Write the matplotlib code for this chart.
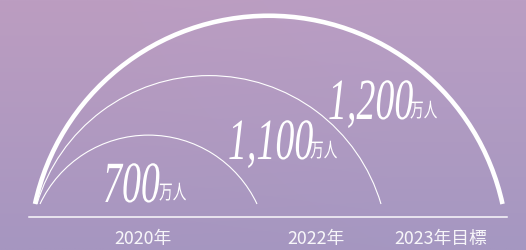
import numpy as np
import matplotlib.pyplot as plt
import matplotlib.patheffects as pe
from matplotlib.patches import Arc
from matplotlib.text import Text
from matplotlib.transforms import Affine2D, Bbox

years = ['2020年', '2022年', '2023年目標']
values = [700, 1100, 1200]
unit = '万人'

W, H = 526, 251


class Squeeze(pe.AbstractPathEffect):
    # condense glyphs horizontally around the text's left edge
    def __init__(self, sx):
        super().__init__()
        self.sx = sx

    def draw_path(self, renderer, gc, tpath, affine, rgbFace=None):
        renderer.draw_path(gc, tpath, Affine2D().scale(self.sx, 1) + affine, rgbFace)


class CondensedText(Text):
    # left-aligned text drawn narrower; extent reports the narrow width
    def __init__(self, x, y, s, sx=1.0, **kw):
        super().__init__(x, y, s, ha='left', **kw)
        self.sx = sx
        self.set_path_effects([Squeeze(sx)])

    def get_window_extent(self, renderer=None, dpi=None):
        bb = super().get_window_extent(renderer, dpi)
        return Bbox.from_extents(bb.x0, bb.y0, bb.x0 + bb.width * self.sx, bb.y1)


fig = plt.figure(figsize=(W / 100, H / 100), dpi=100)
ax = fig.add_axes([0, 0, 1, 1])
ax.set_xlim(0, W)
ax.set_ylim(0, H)
ax.axis('off')

# background gradient
tl = np.array([188, 157, 193]) / 255
tr = np.array([186, 158, 195]) / 255
bl = np.array([166, 150, 192]) / 255
br = np.array([165, 151, 193]) / 255
t = np.linspace(0, 1, 64)[:, None, None]
s = np.linspace(0, 1, 2)[None, :, None]
grad = (tl * (1 - s) + tr * s) * (1 - t) + (bl * (1 - s) + br * s) * t
ax.imshow(grad, extent=[0, W, 0, H], aspect='auto', zorder=0, interpolation='bilinear')

# arcs (circle centres sit a bit below the baseline)
base_y, cy = 46, -5
arc_left = [40, 37, 35]
arc_right = [257, 381, 502.5]
arc_lw = [0.8, 0.8, 3.3]
for v, l, r, lw in zip(values, arc_left, arc_right, arc_lw):
    cx = (l + r) / 2
    R = np.hypot((r - l) / 2, base_y - cy)
    th = np.degrees(np.arcsin((base_y - cy) / R))
    ax.add_patch(Arc((cx, cy), 2 * R, 2 * R, theta1=th, theta2=180 - th,
                     lw=lw, color='white', capstyle='butt', zorder=2))

# axis line
ax.plot([29, 507], [33, 33], color='white', lw=1.1, alpha=0.95, zorder=2)

# year labels
year_x = [143, 316, 441]
for x, lab in zip(year_x, years):
    ax.text(x, 12, lab, ha='center', va='center', color='white', alpha=0.92,
            fontsize=12.8, family=['Noto Sans CJK JP', 'DejaVu Sans'])

# value labels
num_pos = [(103, 48), (228, 91), (328, 131)]
unit_pos = [(159, 51), (310, 93), (410, 133)]
for v, (nx, ny), (ux, uy) in zip(values, num_pos, unit_pos):
    ax.add_artist(CondensedText(nx, ny, f'{v:,}', sx=0.65, va='baseline',
                                color='white', fontsize=42,
                                family='Liberation Serif', style='italic',
                                zorder=3))
    ax.add_artist(CondensedText(ux, uy, unit, sx=0.68, va='baseline',
                                color='white', fontsize=14.5,
                                family=['Noto Sans CJK JP', 'DejaVu Sans'],
                                zorder=3))

fig.savefig('out.png', dpi=100)
